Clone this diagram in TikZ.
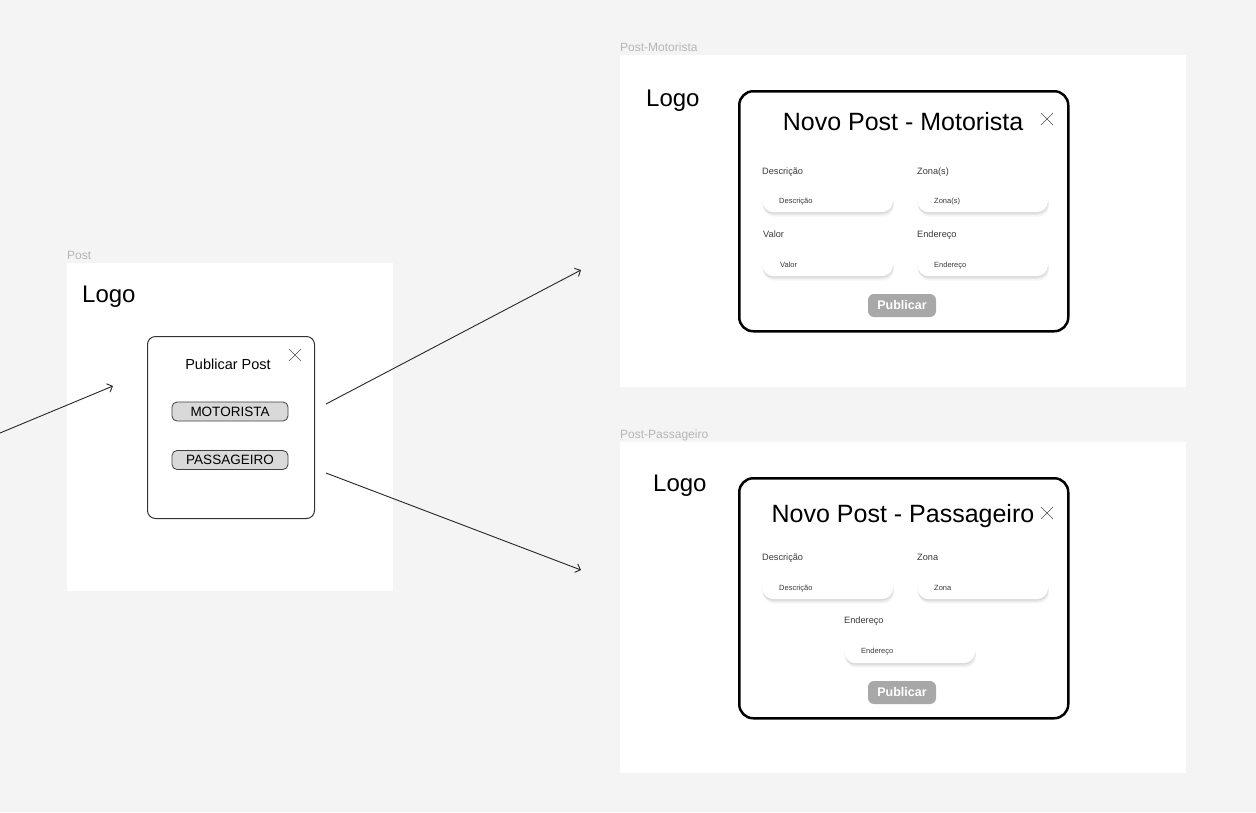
\documentclass[tikz,border=0pt]{standalone}
\usepackage{fontspec}
\setmainfont{Liberation Sans}
\usetikzlibrary{arrows.meta,shadows}
\definecolor{bg}{HTML}{F4F4F4}
\definecolor{lbl}{HTML}{B5B5B5}
\definecolor{optfill}{HTML}{D9D9D9}
\definecolor{pubfill}{HTML}{A8A8A8}
\definecolor{txtgray}{HTML}{3A3A3A}
\begin{document}
\begin{tikzpicture}[x=1pt,y=-1pt,
  frame/.style={fill=white,draw=none,anchor=north west,inner sep=0pt},
  framelabel/.style={anchor=base west,inner sep=0pt,text=lbl,font=\fontsize{12}{14}\selectfont},
  logo/.style={anchor=base west,inner sep=0pt,font=\fontsize{24}{28}\selectfont},
  smallmodal/.style={draw=black!80,line width=1pt,rounded corners=8pt,fill=white,anchor=north west,inner sep=0pt},
  bigmodal/.style={draw=black,line width=2.5pt,rounded corners=14pt,fill=white,anchor=north west,inner sep=0pt},
  optbtn/.style={draw=black!75,line width=0.8pt,fill=optfill,rounded corners=5pt,minimum width=116pt,minimum height=19pt,inner sep=0pt,font=\fontsize{13.5}{15}\selectfont},
  title/.style={anchor=base,inner sep=0pt,font=\fontsize{25}{29}\selectfont},
  fieldlabel/.style={anchor=base west,inner sep=0pt,text=txtgray,font=\fontsize{9.2}{11}\selectfont},
  field/.style={fill=white,rounded corners=11.5pt,minimum width=131pt,minimum height=24pt,anchor=north west,inner sep=0pt,
     drop shadow={shadow xshift=0pt,shadow yshift=-1.5pt,opacity=0.06,fill=black},
     drop shadow={shadow xshift=0.5pt,shadow yshift=-3pt,opacity=0.05,fill=black},
     drop shadow={shadow xshift=1pt,shadow yshift=-4.5pt,opacity=0.035,fill=black}},
  placeholder/.style={anchor=base west,inner sep=0pt,text=txtgray,font=\fontsize{7.5}{9}\selectfont},
  pubbtn/.style={fill=pubfill,rounded corners=6pt,minimum width=68pt,minimum height=23pt,inner sep=0pt,text=white,font=\bfseries\fontsize{12.5}{14}\selectfont},
  closex/.style={line width=0.6pt,draw=black!70},
  conn/.style={line width=0.9pt,draw=black!85,-{Straight Barb[length=4.5pt,width=9pt]}}
]
\fill[bg] (0,0) rectangle (1256,812);
\useasboundingbox (0,0) rectangle (1256,812);

% ---------------- Post frame ----------------
\node[framelabel] (postlbl) at (67,259) {Post};
\node[frame,minimum width=326pt,minimum height=328pt] (post) at (67,263) {};
\node[logo] (postlogo) at (82,302) {Logo};
\node[smallmodal,minimum width=167pt,minimum height=182pt] (pmodal) at (147,336) {};
\node[anchor=base,inner sep=0pt,font=\fontsize{14.5}{17}\selectfont] (ptitle) at (228,369) {Publicar Post};
\coordinate (px) at (295,355);
\draw[closex] ([shift={(-6,-6)}]px) -- ([shift={(6,6)}]px) ([shift={(-6,6)}]px) -- ([shift={(6,-6)}]px);
\node[optbtn] (mot) at (230,411.5) {MOTORISTA};
\node[optbtn] (pas) at (230,460) {PASSAGEIRO};

% ---------------- connectors ----------------
\coordinate (in0) at (0,433);
\coordinate (in1) at (113,386);
\draw[conn] (in0) -- (in1);
\coordinate (a1s) at (326,404);
\coordinate (a1e) at (581,270);
\draw[conn] (a1s) -- (a1e);
\coordinate (a2s) at (326,473);
\coordinate (a2e) at (581,570);
\draw[conn] (a2s) -- (a2e);

% ---------------- Post-Motorista ----------------
\node[framelabel] (mlbl) at (620,51) {Post-Motorista};
\node[frame,minimum width=566pt,minimum height=332pt] (mframe) at (620,55) {};
\node[logo] (mlogo) at (646,106) {Logo};
\node[bigmodal,minimum width=329pt,minimum height=240pt] (mmodal) at (738,90) {};
\node[title] (mtitle) at (903,130) {Novo Post - Motorista};
\coordinate (mx) at (1047,119);
\draw[closex] ([shift={(-6,-6)}]mx) -- ([shift={(6,6)}]mx) ([shift={(-6,6)}]mx) -- ([shift={(6,-6)}]mx);
\node[fieldlabel] (mdl) at (762,174) {Descrição};
\node[fieldlabel] (mzl) at (917,174) {Zona(s)};
\node[field] (mdf) at (762,188) {};
\node[field] (mzf) at (917,188) {};
\node[placeholder] (mdp) at (779,203) {Descrição};
\node[placeholder] (mzp) at (934,203) {Zona(s)};
\node[fieldlabel] (mvl) at (763,237) {Valor};
\node[fieldlabel] (mel) at (917,237) {Endereço};
\node[field] (mvf) at (762,252) {};
\node[field] (mef) at (917,252) {};
\node[placeholder] (mvp) at (780,267) {Valor};
\node[placeholder] (mep) at (934,267) {Endereço};
\node[pubbtn] (mpub) at (902,305.5) {Publicar};

% ---------------- Post-Passageiro ----------------
\node[framelabel] (plbl) at (620,438) {Post-Passageiro};
\node[frame,minimum width=566pt,minimum height=331pt] (pframe) at (620,442) {};
\node[logo] (plogo) at (653,491) {Logo};
\node[bigmodal,minimum width=329pt,minimum height=240pt] (pmodal2) at (738,477) {};
\node[title] (ptitle2) at (903,522) {Novo Post - Passageiro};
\coordinate (ppx) at (1047,513);
\draw[closex] ([shift={(-6,-6)}]ppx) -- ([shift={(6,6)}]ppx) ([shift={(-6,6)}]ppx) -- ([shift={(6,-6)}]ppx);
\node[fieldlabel] (pdl) at (762,560) {Descrição};
\node[fieldlabel] (pzl) at (917,560) {Zona};
\node[field] (pdf) at (762,575) {};
\node[field] (pzf) at (917,575) {};
\node[placeholder] (pdp) at (779,590) {Descrição};
\node[placeholder] (pzp) at (934,590) {Zona};
\node[fieldlabel] (pel) at (844,623) {Endereço};
\node[field] (pef) at (844,639) {};
\node[placeholder] (pep) at (861,653) {Endereço};
\node[pubbtn] (ppub) at (902,692.5) {Publicar};
\end{tikzpicture}
\end{document}
